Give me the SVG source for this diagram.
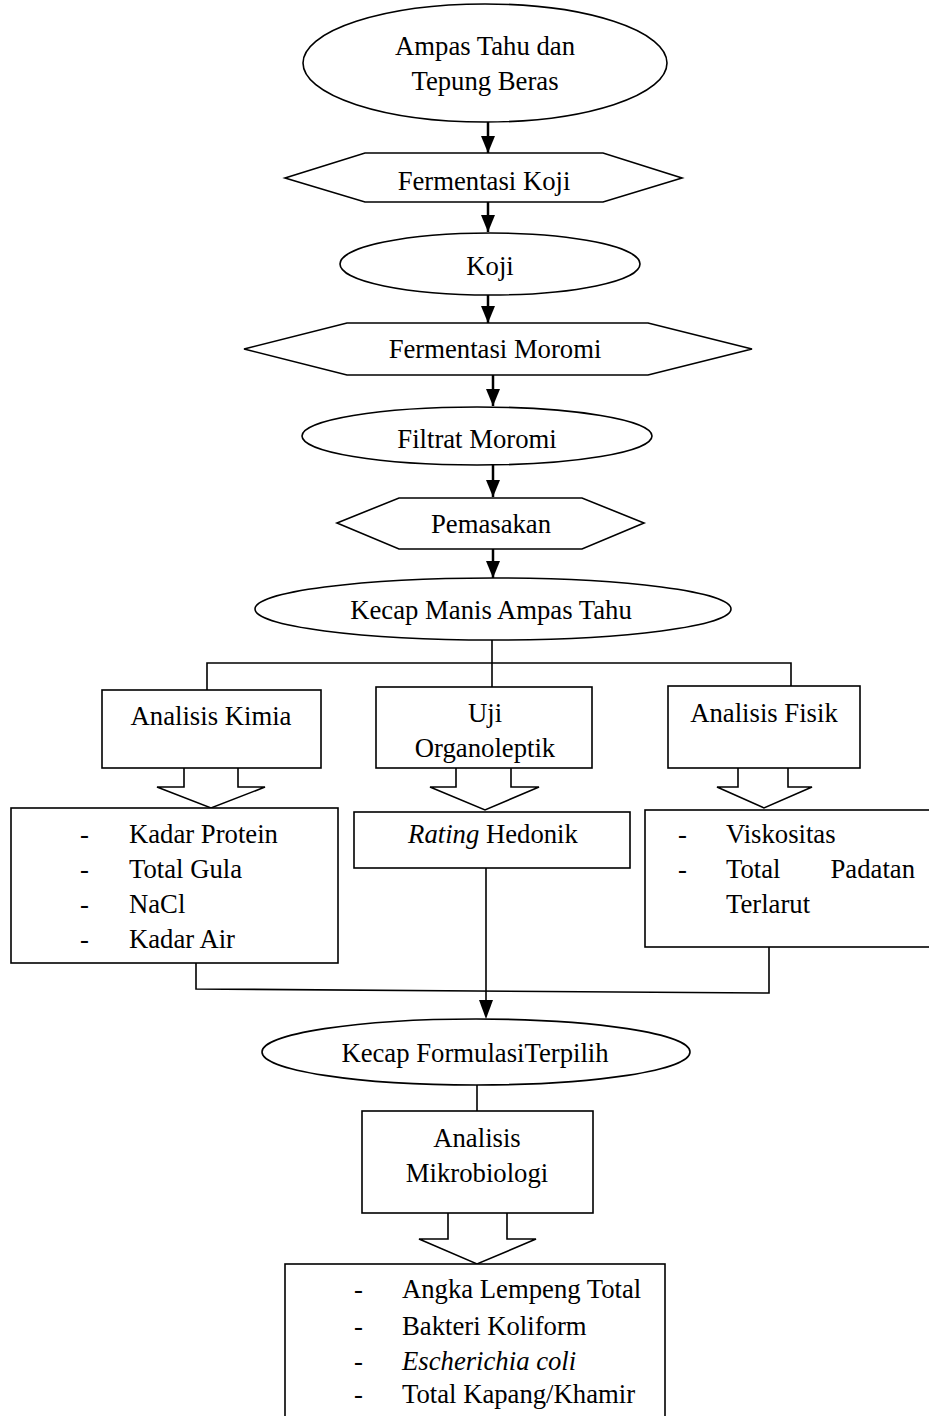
<svg xmlns="http://www.w3.org/2000/svg" width="929" height="1416" viewBox="0 0 929 1416">
<style>
text{font-family:"Liberation Serif","Times New Roman",serif;font-size:26.7px;fill:#000}
.c{text-anchor:middle}
.s{fill:#fff;stroke:#000;stroke-width:1.6}
.l{fill:none;stroke:#000;stroke-width:1.6}
.a{fill:none;stroke:#000;stroke-width:2.5}
.i{font-style:italic}
</style>
<rect width="929" height="1416" fill="#fff"/>
<g id="connectors">
<line class="a" x1="488" y1="122" x2="488" y2="153"/>
<polygon points="481,136 495,136 488,153" fill="#000"/>
<line class="a" x1="488" y1="202" x2="488" y2="232"/>
<polygon points="481,215 495,215 488,232" fill="#000"/>
<line class="a" x1="488" y1="295" x2="488" y2="323"/>
<polygon points="481,306 495,306 488,323" fill="#000"/>
<line class="a" x1="493" y1="375" x2="493" y2="406"/>
<polygon points="486,389 500,389 493,406" fill="#000"/>
<line class="a" x1="493" y1="465" x2="493" y2="497"/>
<polygon points="486,480 500,480 493,497" fill="#000"/>
<line class="a" x1="493" y1="549" x2="493" y2="578"/>
<polygon points="486,561 500,561 493,578" fill="#000"/>
<polyline class="l" points="492,640 492,687"/>
<polyline class="l" points="207,690 207,663 791,663 791,686"/>
<polyline class="l" points="196,963 196,989 769,993 769,947"/>
<line class="l" x1="486" y1="868" x2="486" y2="1001"/>
<polygon points="479,1000 493,1000 486,1019" fill="#000"/>
<line class="l" x1="477" y1="1085" x2="477" y2="1111"/>
</g>
<g id="n1"><ellipse class="s" cx="485" cy="63" rx="182" ry="59"/><text class="c" x="485" y="55">Ampas Tahu dan</text><text class="c" x="485" y="90">Tepung Beras</text></g>
<g id="n2"><polygon class="s" points="285,178 365,153 603,153 682,178 603,202 365,202"/><text class="c" x="484" y="190">Fermentasi Koji</text></g>
<g id="n3"><ellipse class="s" cx="490" cy="264" rx="150" ry="31"/><text class="c" x="490" y="275">Koji</text></g>
<g id="n4"><polygon class="s" points="244,349 347,323 648,323 752,349 648,375 347,375"/><text class="c" x="495" y="358">Fermentasi Moromi</text></g>
<g id="n5"><ellipse class="s" cx="477" cy="436" rx="175" ry="29"/><text class="c" x="477" y="448">Filtrat Moromi</text></g>
<g id="n6"><polygon class="s" points="337,523 399,498 582,498 644,523 582,549 399,549"/><text class="c" x="491" y="533">Pemasakan</text></g>
<g id="n7"><ellipse class="s" cx="493" cy="609" rx="238" ry="31"/><text class="c" x="491" y="619">Kecap Manis Ampas Tahu</text></g>
<g id="n8"><rect class="s" x="102" y="690" width="219" height="78"/><polyline class="l" points="184,768 184,787 157,787 211,808 265,787 238,787 238,768"/><text class="c" x="211" y="725">Analisis Kimia</text></g>
<g id="n9"><rect class="s" x="376" y="687" width="216" height="81"/><polyline class="l" points="456,768 456,787 430,787 485,810 539,787 511,787 511,768"/><text class="c" x="485" y="722">Uji</text><text class="c" x="485" y="757">Organoleptik</text></g>
<g id="n10"><rect class="s" x="668" y="686" width="192" height="82"/><polyline class="l" points="738,768 738,787 717,787 764,808 812,787 788,787 788,768"/><text class="c" x="764" y="722">Analisis Fisik</text></g>
<g id="n11"><rect class="s" x="11" y="808" width="327" height="155"/>
<text x="80" y="843">-</text><text x="129" y="843">Kadar Protein</text>
<text x="80" y="878">-</text><text x="129" y="878">Total Gula</text>
<text x="80" y="913">-</text><text x="129" y="913">NaCl</text>
<text x="80" y="948">-</text><text x="129" y="948">Kadar Air</text></g>
<g id="n12"><rect class="s" x="354" y="812" width="276" height="56"/><text class="c" x="493" y="843"><tspan class="i">Rating</tspan> Hedonik</text></g>
<g id="n13"><rect class="s" x="645" y="810" width="295" height="137"/>
<text x="678" y="843">-</text><text x="726" y="843">Viskositas</text>
<text x="678" y="878">-</text><text x="726" y="878">Total</text><text x="915" y="878" text-anchor="end">Padatan</text>
<text x="726" y="913">Terlarut</text></g>
<g id="n14"><ellipse class="s" cx="476" cy="1052" rx="214" ry="33"/><text class="c" x="475" y="1062">Kecap FormulasiTerpilih</text></g>
<g id="n15"><rect class="s" x="362" y="1111" width="231" height="102"/><polyline class="l" points="448,1213 448,1239 419,1239 477,1264 536,1239 507,1239 507,1213"/><text class="c" x="477" y="1147">Analisis</text><text class="c" x="477" y="1182">Mikrobiologi</text></g>
<g id="n16"><rect class="s" x="285" y="1264" width="380" height="170"/>
<text x="354" y="1298">-</text><text x="402" y="1298">Angka Lempeng Total</text>
<text x="354" y="1335">-</text><text x="402" y="1335">Bakteri Koliform</text>
<text x="354" y="1370">-</text><text x="402" y="1370" class="i">Escherichia coli</text>
<text x="354" y="1403">-</text><text x="402" y="1403">Total Kapang/Khamir</text></g>
</svg>
